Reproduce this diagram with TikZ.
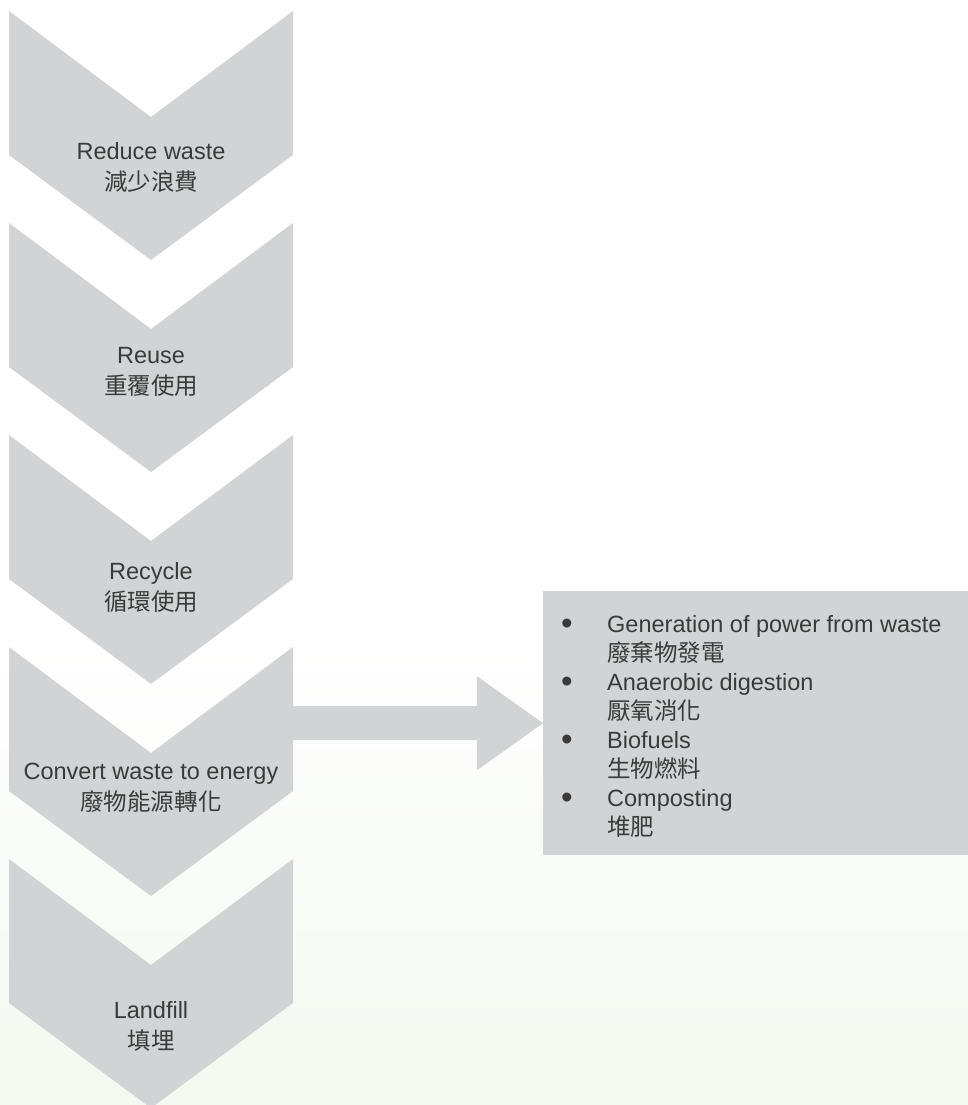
\documentclass[tikz,border=0pt]{standalone}
\usepackage{fontspec}
\setmainfont{Liberation Sans}
\newfontfamily\cjk{Noto Sans CJK TC}
\usetikzlibrary{calc}
\definecolor{chevGray}{HTML}{D1D3D4}
\definecolor{textGray}{HTML}{3A3A3A}
\definecolor{bgGreen}{HTML}{F3F8F0}
\newcommand{\bigdot}{\raisebox{-2.5pt}{\fontsize{33}{29}\selectfont\textbullet}}

\begin{document}
\begin{tikzpicture}[x=1pt, y=-1pt,
    stage/.style={align=center, text=textGray, font=\fontsize{23.5}{31}\selectfont, inner sep=0pt},
    usebox/.style={fill=chevGray, draw=none, minimum width=425pt, minimum height=264pt, inner sep=0pt}]
    \useasboundingbox (0,0) rectangle (968,1105);
    \fill[white] (0,0) rectangle (968,1105);
    % faint green wash at the bottom
    \shade[top color=white, bottom color=bgGreen] (0,640) rectangle (968,1105);

    % Chevrons, top to bottom
    \foreach \y in {11, 223, 435, 647, 859} \fill[chevGray] (9,\y) -- (151,\y+106) -- (293,\y) -- (293,\y+144) -- (151,\y+249) -- (9,\y+144) -- cycle;

    \node[stage] (reduce) at (151,168) {Reduce waste\\{\cjk 減少浪費}};
    \node[stage] (reuse) at (151,372) {Reuse\\{\cjk 重覆使用}};
    \node[stage] (recycle) at (151,587) {Recycle\\{\cjk 循環使用}};
    \node[stage] (convert) at (151,788) {Convert waste to energy\\{\cjk 廢物能源轉化}};
    \node[stage] (landfill) at (151,1026) {Landfill\\{\cjk 填埋}};

    % Box with the ways to convert
    \node[usebox, anchor=north west] (uses) at (543,591) {};
    \node[anchor=north west, inner sep=0pt, text=textGray, font=\fontsize{23.5}{29}\selectfont] (list) at (561,611.7) {%
        \begin{tabular}{@{}p{46pt}@{}l@{}}
            \bigdot & Generation of power from waste\\
                    & {\cjk 廢棄物發電}\\
            \bigdot & Anaerobic digestion\\
                    & {\cjk 厭氧消化}\\
            \bigdot & Biofuels\\
                    & {\cjk 生物燃料}\\
            \bigdot & Composting\\
                    & {\cjk 堆肥}\\
        \end{tabular}};

    % Fat arrow from the chevrons to the box
    \coordinate (shaftStart) at (293,723);
    \fill[chevGray] ($(shaftStart)+(0,-17)$) -- ($(uses.west)+(-66,-17)$) -- ($(uses.west)+(-66,-47)$) -- (uses.west)
        -- ($(uses.west)+(-66,47)$) -- ($(uses.west)+(-66,17)$) -- ($(shaftStart)+(0,17)$) -- cycle;
\end{tikzpicture}
\end{document}
